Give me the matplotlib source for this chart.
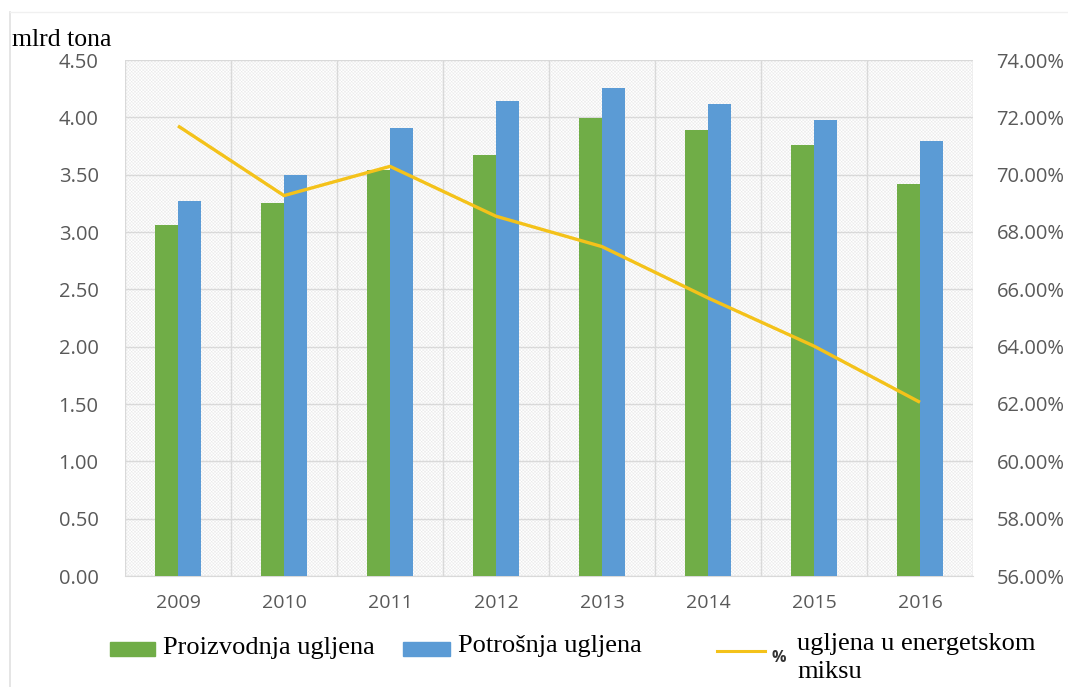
import matplotlib
matplotlib.use("Agg")
import matplotlib.pyplot as plt
from matplotlib.patches import Rectangle
from matplotlib.lines import Line2D
from matplotlib.ticker import FixedLocator
import numpy as np

years = ["2009", "2010", "2011", "2012", "2013", "2014", "2015", "2016"]
proizvodnja = [3.06, 3.25, 3.54, 3.67, 3.99, 3.89, 3.76, 3.42]
potrosnja = [3.27, 3.50, 3.91, 4.14, 4.26, 4.12, 3.98, 3.79]
udio = [71.7, 69.27, 70.29, 68.55, 67.49, 65.7, 64.02, 62.06]
left_ticks = [0.0, 0.5, 1.0, 1.5, 2.0, 2.5, 3.0, 3.5, 4.0, 4.5]
right_ticks = [56, 58, 60, 62, 64, 66, 68, 70, 72, 74]
labels = ["Proizvodnja ugljena", "Potrošnja ugljena", "% ugljena u energetskom", "miksu"]
ylabel = "mlrd tona"

GREEN = "#70AD47"
BLUE = "#5B9BD5"
GOLD = "#F4C21A"
TICK = "#595959"
GRID = "#d9d9d9"

plt.rcParams["hatch.linewidth"] = 0.4
sans = ["Open Sans", "DejaVu Sans"]
serif = ["Liberation Serif", "DejaVu Serif"]

fig = plt.figure(figsize=(10.68, 6.87), dpi=100)
ax = fig.add_axes([125 / 1068, 1 - 576 / 687, (973 - 125) / 1068, (576 - 60) / 687])

ax.add_patch(Rectangle((0, 0), 1, 1, transform=ax.transAxes, facecolor="white",
                       edgecolor="#ebebeb", hatch="xxxxxxxxxx", lw=0, zorder=0))

x = np.arange(len(years))
w = 0.22
ax.bar(x - w / 2, proizvodnja, width=w, color=GREEN, zorder=3)
ax.bar(x + w / 2, potrosnja, width=w, color=BLUE, zorder=3)

ax.set_xlim(-0.5, len(years) - 0.5)
ax.set_ylim(0, 4.5)
ax.set_yticks(left_ticks)
ax.set_yticklabels([f"{v:.2f}" for v in left_ticks])
ax.set_xticks(x)
ax.set_xticklabels(years)
ax.xaxis.set_minor_locator(FixedLocator(np.arange(-0.5, len(years), 1.0)))
ax.grid(axis="y", which="major", color=GRID, lw=1, zorder=1)
ax.grid(axis="x", which="minor", color=GRID, lw=1, zorder=1)
ax.grid(axis="x", which="major", visible=False)
ax.tick_params(axis="both", which="both", length=0)
ax.tick_params(axis="y", pad=19, labelsize=14.5, labelcolor=TICK)
ax.tick_params(axis="x", pad=13, labelsize=14, labelcolor=TICK)
for lab in ax.get_xticklabels() + ax.get_yticklabels():
    lab.set_family(sans)
for s in ["left", "right", "top"]:
    ax.spines[s].set_visible(False)
ax.spines["bottom"].set_color(GRID)
ax.set_axisbelow(True)

ax2 = ax.twinx()
ax2.plot(x, udio, color=GOLD, lw=2.4, solid_capstyle="butt", zorder=5)
ax2.set_ylim(56, 74)
ax2.set_yticks(right_ticks)
ax2.set_yticklabels([f"{v:.2f}%" for v in right_ticks])
ax2.tick_params(axis="y", length=0, pad=17, labelsize=14.5, labelcolor=TICK)
for lab in ax2.get_yticklabels():
    lab.set_family(sans)
for s in ax2.spines.values():
    s.set_visible(False)

# frame line at left/top of image
fig.add_artist(Line2D([10 / 1068, 10 / 1068], [0, 1 - 12 / 687], color="#e0e0e0", lw=1.2))
fig.add_artist(Line2D([10 / 1068, 1], [1 - 12 / 687, 1 - 12 / 687], color="#f0f0f0", lw=1))

fig.text(12 / 1068, 1 - 40 / 687, ylabel, family=serif, fontsize=18.5, color="black",
         va="center", ha="left")

# legend
def px(xp, yp):
    return xp / 1068, 1 - yp / 687

fig.add_artist(Rectangle(px(110, 656), 45 / 1068, 14 / 687, color=GREEN))
fig.text(*px(163, 648), labels[0], family=serif, fontsize=19, va="center", ha="left")
fig.add_artist(Rectangle(px(403, 656), 47 / 1068, 14 / 687, color=BLUE))
fig.text(*px(458, 646), labels[1], family=serif, fontsize=19, va="center", ha="left")
fig.add_artist(Line2D([717 / 1068, 765 / 1068], [1 - 651 / 687] * 2, color=GOLD, lw=2.2))
fig.text(*px(771, 658), labels[2][0], family=sans, fontsize=11.5, fontweight="bold",
         color="#333333", va="center", ha="left")
fig.text(*px(797, 644), labels[2][2:], family=serif, fontsize=19, va="center", ha="left")
fig.text(*px(797, 672), labels[3], family=serif, fontsize=19, va="center", ha="left")

fig.savefig("out.png", dpi=100)
